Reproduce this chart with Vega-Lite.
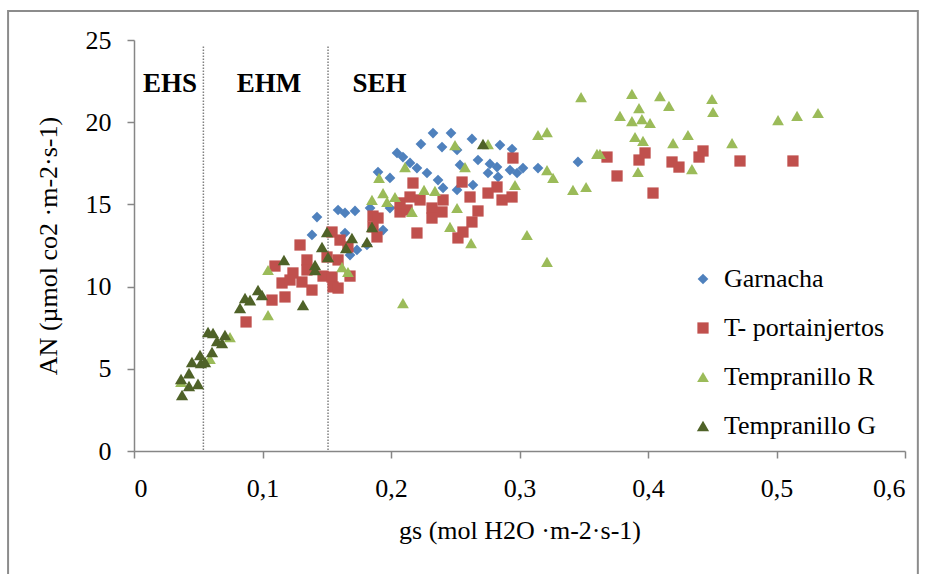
{
  "$schema": "https://vega.github.io/schema/vega-lite/v6.json",
  "autosize": "none",
  "width": 771,
  "height": 411,
  "padding": {"left": 134, "top": 40, "right": 22, "bottom": 123},
  "background": "white",
  "config": {
    "view": {"stroke": null},
    "font": "Liberation Serif",
    "axis": {
      "grid": false,
      "domainColor": "#868686",
      "domainWidth": 1.5,
      "tickColor": "#868686",
      "tickWidth": 1.5,
      "tickSize": 7,
      "labelFont": "Liberation Serif",
      "labelFontSize": 26,
      "labelColor": "black",
      "titleFont": "Liberation Serif",
      "titleFontSize": 26,
      "titleFontWeight": "normal",
      "titleColor": "black"
    },
    "legend": {
      "labelFont": "Liberation Serif",
      "labelFontSize": 26,
      "labelColor": "black",
      "labelLimit": 400
    }
  },
  "datasets": {
    "pts": [
      {"series": "Garnacha", "gs": 0.1385, "an": 13.14},
      {"series": "Garnacha", "gs": 0.1424, "an": 14.23},
      {"series": "Garnacha", "gs": 0.1588, "an": 14.66},
      {"series": "Garnacha", "gs": 0.1642, "an": 14.48},
      {"series": "Garnacha", "gs": 0.1720, "an": 14.60},
      {"series": "Garnacha", "gs": 0.1642, "an": 13.26},
      {"series": "Garnacha", "gs": 0.1681, "an": 11.92},
      {"series": "Garnacha", "gs": 0.1735, "an": 12.23},
      {"series": "Garnacha", "gs": 0.1813, "an": 12.53},
      {"series": "Garnacha", "gs": 0.1938, "an": 13.44},
      {"series": "Garnacha", "gs": 0.1837, "an": 14.78},
      {"series": "Garnacha", "gs": 0.1899, "an": 16.97},
      {"series": "Garnacha", "gs": 0.1992, "an": 16.61},
      {"series": "Garnacha", "gs": 0.1992, "an": 14.78},
      {"series": "Garnacha", "gs": 0.2047, "an": 18.13},
      {"series": "Garnacha", "gs": 0.2093, "an": 17.88},
      {"series": "Garnacha", "gs": 0.2148, "an": 17.52},
      {"series": "Garnacha", "gs": 0.2202, "an": 17.21},
      {"series": "Garnacha", "gs": 0.2233, "an": 18.67},
      {"series": "Garnacha", "gs": 0.2280, "an": 16.91},
      {"series": "Garnacha", "gs": 0.2327, "an": 19.34},
      {"series": "Garnacha", "gs": 0.2366, "an": 16.48},
      {"series": "Garnacha", "gs": 0.2397, "an": 18.49},
      {"series": "Garnacha", "gs": 0.2405, "an": 16.00},
      {"series": "Garnacha", "gs": 0.2467, "an": 19.34},
      {"series": "Garnacha", "gs": 0.2514, "an": 18.31},
      {"series": "Garnacha", "gs": 0.2514, "an": 15.88},
      {"series": "Garnacha", "gs": 0.2537, "an": 17.40},
      {"series": "Garnacha", "gs": 0.2630, "an": 18.98},
      {"series": "Garnacha", "gs": 0.2638, "an": 16.18},
      {"series": "Garnacha", "gs": 0.2677, "an": 17.70},
      {"series": "Garnacha", "gs": 0.2755, "an": 16.91},
      {"series": "Garnacha", "gs": 0.2770, "an": 17.46},
      {"series": "Garnacha", "gs": 0.2825, "an": 17.27},
      {"series": "Garnacha", "gs": 0.2848, "an": 18.61},
      {"series": "Garnacha", "gs": 0.2942, "an": 18.37},
      {"series": "Garnacha", "gs": 0.2926, "an": 17.09},
      {"series": "Garnacha", "gs": 0.2981, "an": 16.91},
      {"series": "Garnacha", "gs": 0.3027, "an": 17.21},
      {"series": "Garnacha", "gs": 0.3144, "an": 17.21},
      {"series": "Garnacha", "gs": 0.3455, "an": 17.58},
      {"series": "Garnacha", "gs": 0.2833, "an": 16.67},
      {"series": "T- portainjertos", "gs": 0.0872, "an": 7.85},
      {"series": "T- portainjertos", "gs": 0.1074, "an": 9.18},
      {"series": "T- portainjertos", "gs": 0.1175, "an": 9.37},
      {"series": "T- portainjertos", "gs": 0.1097, "an": 11.25},
      {"series": "T- portainjertos", "gs": 0.1292, "an": 12.53},
      {"series": "T- portainjertos", "gs": 0.1346, "an": 11.62},
      {"series": "T- portainjertos", "gs": 0.1346, "an": 11.01},
      {"series": "T- portainjertos", "gs": 0.1237, "an": 10.83},
      {"series": "T- portainjertos", "gs": 0.1152, "an": 10.22},
      {"series": "T- portainjertos", "gs": 0.1214, "an": 10.40},
      {"series": "T- portainjertos", "gs": 0.1307, "an": 10.28},
      {"series": "T- portainjertos", "gs": 0.1385, "an": 9.79},
      {"series": "T- portainjertos", "gs": 0.1471, "an": 10.64},
      {"series": "T- portainjertos", "gs": 0.1541, "an": 13.32},
      {"series": "T- portainjertos", "gs": 0.1603, "an": 12.83},
      {"series": "T- portainjertos", "gs": 0.1502, "an": 11.80},
      {"series": "T- portainjertos", "gs": 0.1588, "an": 11.62},
      {"series": "T- portainjertos", "gs": 0.1541, "an": 10.58},
      {"series": "T- portainjertos", "gs": 0.1549, "an": 9.98},
      {"series": "T- portainjertos", "gs": 0.1588, "an": 9.91},
      {"series": "T- portainjertos", "gs": 0.1681, "an": 10.64},
      {"series": "T- portainjertos", "gs": 0.1665, "an": 12.41},
      {"series": "T- portainjertos", "gs": 0.1860, "an": 14.29},
      {"series": "T- portainjertos", "gs": 0.1899, "an": 14.17},
      {"series": "T- portainjertos", "gs": 0.1860, "an": 13.63},
      {"series": "T- portainjertos", "gs": 0.1891, "an": 13.02},
      {"series": "T- portainjertos", "gs": 0.2070, "an": 14.54},
      {"series": "T- portainjertos", "gs": 0.2070, "an": 15.09},
      {"series": "T- portainjertos", "gs": 0.2125, "an": 14.66},
      {"series": "T- portainjertos", "gs": 0.2148, "an": 15.45},
      {"series": "T- portainjertos", "gs": 0.2171, "an": 16.30},
      {"series": "T- portainjertos", "gs": 0.2202, "an": 13.26},
      {"series": "T- portainjertos", "gs": 0.2226, "an": 15.27},
      {"series": "T- portainjertos", "gs": 0.2319, "an": 14.78},
      {"series": "T- portainjertos", "gs": 0.2319, "an": 14.17},
      {"series": "T- portainjertos", "gs": 0.2397, "an": 14.54},
      {"series": "T- portainjertos", "gs": 0.2405, "an": 15.27},
      {"series": "T- portainjertos", "gs": 0.2553, "an": 16.36},
      {"series": "T- portainjertos", "gs": 0.2521, "an": 12.96},
      {"series": "T- portainjertos", "gs": 0.2560, "an": 13.32},
      {"series": "T- portainjertos", "gs": 0.2615, "an": 15.45},
      {"series": "T- portainjertos", "gs": 0.2630, "an": 13.93},
      {"series": "T- portainjertos", "gs": 0.2677, "an": 14.60},
      {"series": "T- portainjertos", "gs": 0.2755, "an": 15.69},
      {"series": "T- portainjertos", "gs": 0.2825, "an": 16.06},
      {"series": "T- portainjertos", "gs": 0.2864, "an": 15.27},
      {"series": "T- portainjertos", "gs": 0.2942, "an": 15.45},
      {"series": "T- portainjertos", "gs": 0.2949, "an": 17.82},
      {"series": "T- portainjertos", "gs": 0.3681, "an": 17.88},
      {"series": "T- portainjertos", "gs": 0.3759, "an": 16.73},
      {"series": "T- portainjertos", "gs": 0.3930, "an": 17.70},
      {"series": "T- portainjertos", "gs": 0.3977, "an": 18.13},
      {"series": "T- portainjertos", "gs": 0.4039, "an": 15.69},
      {"series": "T- portainjertos", "gs": 0.4187, "an": 17.58},
      {"series": "T- portainjertos", "gs": 0.4241, "an": 17.27},
      {"series": "T- portainjertos", "gs": 0.4397, "an": 17.88},
      {"series": "T- portainjertos", "gs": 0.4428, "an": 18.25},
      {"series": "T- portainjertos", "gs": 0.4716, "an": 17.64},
      {"series": "T- portainjertos", "gs": 0.5128, "an": 17.64},
      {"series": "Tempranillo R", "gs": 0.0366, "an": 4.20},
      {"series": "Tempranillo R", "gs": 0.0591, "an": 5.60},
      {"series": "Tempranillo R", "gs": 0.0747, "an": 6.93},
      {"series": "Tempranillo R", "gs": 0.1043, "an": 11.01},
      {"series": "Tempranillo R", "gs": 0.1043, "an": 8.27},
      {"series": "Tempranillo R", "gs": 0.1619, "an": 11.19},
      {"series": "Tempranillo R", "gs": 0.1665, "an": 10.89},
      {"series": "Tempranillo R", "gs": 0.1907, "an": 16.61},
      {"series": "Tempranillo R", "gs": 0.1852, "an": 15.27},
      {"series": "Tempranillo R", "gs": 0.1938, "an": 15.69},
      {"series": "Tempranillo R", "gs": 0.1969, "an": 15.15},
      {"series": "Tempranillo R", "gs": 0.2031, "an": 15.45},
      {"series": "Tempranillo R", "gs": 0.2093, "an": 9.00},
      {"series": "Tempranillo R", "gs": 0.2109, "an": 17.27},
      {"series": "Tempranillo R", "gs": 0.2163, "an": 14.54},
      {"series": "Tempranillo R", "gs": 0.2257, "an": 15.88},
      {"series": "Tempranillo R", "gs": 0.2342, "an": 15.82},
      {"series": "Tempranillo R", "gs": 0.2498, "an": 18.61},
      {"series": "Tempranillo R", "gs": 0.2514, "an": 14.78},
      {"series": "Tempranillo R", "gs": 0.2576, "an": 17.27},
      {"series": "Tempranillo R", "gs": 0.2459, "an": 13.63},
      {"series": "Tempranillo R", "gs": 0.2623, "an": 12.65},
      {"series": "Tempranillo R", "gs": 0.2755, "an": 18.67},
      {"series": "Tempranillo R", "gs": 0.2965, "an": 16.18},
      {"series": "Tempranillo R", "gs": 0.3058, "an": 13.14},
      {"series": "Tempranillo R", "gs": 0.3214, "an": 11.50},
      {"series": "Tempranillo R", "gs": 0.3144, "an": 19.22},
      {"series": "Tempranillo R", "gs": 0.3214, "an": 19.40},
      {"series": "Tempranillo R", "gs": 0.3214, "an": 17.09},
      {"series": "Tempranillo R", "gs": 0.3261, "an": 16.61},
      {"series": "Tempranillo R", "gs": 0.3416, "an": 15.88},
      {"series": "Tempranillo R", "gs": 0.3518, "an": 16.06},
      {"series": "Tempranillo R", "gs": 0.3479, "an": 21.53},
      {"series": "Tempranillo R", "gs": 0.3603, "an": 18.07},
      {"series": "Tempranillo R", "gs": 0.3626, "an": 18.07},
      {"series": "Tempranillo R", "gs": 0.3782, "an": 20.38},
      {"series": "Tempranillo R", "gs": 0.3875, "an": 21.72},
      {"series": "Tempranillo R", "gs": 0.3930, "an": 20.86},
      {"series": "Tempranillo R", "gs": 0.3875, "an": 20.07},
      {"series": "Tempranillo R", "gs": 0.3953, "an": 20.19},
      {"series": "Tempranillo R", "gs": 0.4016, "an": 19.95},
      {"series": "Tempranillo R", "gs": 0.4093, "an": 21.59},
      {"series": "Tempranillo R", "gs": 0.4163, "an": 20.99},
      {"series": "Tempranillo R", "gs": 0.3899, "an": 19.10},
      {"series": "Tempranillo R", "gs": 0.3961, "an": 18.86},
      {"series": "Tempranillo R", "gs": 0.3922, "an": 16.97},
      {"series": "Tempranillo R", "gs": 0.4195, "an": 18.73},
      {"series": "Tempranillo R", "gs": 0.4311, "an": 19.22},
      {"series": "Tempranillo R", "gs": 0.4342, "an": 17.15},
      {"series": "Tempranillo R", "gs": 0.4498, "an": 21.41},
      {"series": "Tempranillo R", "gs": 0.4506, "an": 20.62},
      {"series": "Tempranillo R", "gs": 0.4654, "an": 18.73},
      {"series": "Tempranillo R", "gs": 0.5012, "an": 20.13},
      {"series": "Tempranillo R", "gs": 0.5160, "an": 20.38},
      {"series": "Tempranillo R", "gs": 0.5323, "an": 20.56},
      {"series": "Tempranillo G", "gs": 0.0374, "an": 3.41},
      {"series": "Tempranillo G", "gs": 0.0366, "an": 4.38},
      {"series": "Tempranillo G", "gs": 0.0428, "an": 4.74},
      {"series": "Tempranillo G", "gs": 0.0428, "an": 3.95},
      {"series": "Tempranillo G", "gs": 0.0498, "an": 4.08},
      {"series": "Tempranillo G", "gs": 0.0451, "an": 5.41},
      {"series": "Tempranillo G", "gs": 0.0514, "an": 5.84},
      {"series": "Tempranillo G", "gs": 0.0521, "an": 5.35},
      {"series": "Tempranillo G", "gs": 0.0553, "an": 5.41},
      {"series": "Tempranillo G", "gs": 0.0607, "an": 6.02},
      {"series": "Tempranillo G", "gs": 0.0576, "an": 7.24},
      {"series": "Tempranillo G", "gs": 0.0615, "an": 7.18},
      {"series": "Tempranillo G", "gs": 0.0646, "an": 6.69},
      {"series": "Tempranillo G", "gs": 0.0685, "an": 6.57},
      {"series": "Tempranillo G", "gs": 0.0708, "an": 7.06},
      {"series": "Tempranillo G", "gs": 0.0825, "an": 8.70},
      {"series": "Tempranillo G", "gs": 0.0864, "an": 9.31},
      {"series": "Tempranillo G", "gs": 0.0903, "an": 9.18},
      {"series": "Tempranillo G", "gs": 0.0965, "an": 9.79},
      {"series": "Tempranillo G", "gs": 0.0996, "an": 9.49},
      {"series": "Tempranillo G", "gs": 0.1167, "an": 11.62},
      {"series": "Tempranillo G", "gs": 0.1315, "an": 8.88},
      {"series": "Tempranillo G", "gs": 0.1409, "an": 11.31},
      {"series": "Tempranillo G", "gs": 0.1409, "an": 11.01},
      {"series": "Tempranillo G", "gs": 0.1463, "an": 12.41},
      {"series": "Tempranillo G", "gs": 0.1502, "an": 13.32},
      {"series": "Tempranillo G", "gs": 0.1510, "an": 11.80},
      {"series": "Tempranillo G", "gs": 0.1650, "an": 12.35},
      {"series": "Tempranillo G", "gs": 0.1696, "an": 12.96},
      {"series": "Tempranillo G", "gs": 0.1813, "an": 12.71},
      {"series": "Tempranillo G", "gs": 0.1852, "an": 13.63},
      {"series": "Tempranillo G", "gs": 0.2716, "an": 18.67}
    ],
    "zones": [
      {"label": "EHS", "gs": 0.028, "an": 22.3},
      {"label": "EHM", "gs": 0.105, "an": 22.3},
      {"label": "SEH", "gs": 0.191, "an": 22.3}
    ],
    "bounds": [
      {"gs": 0.054, "bottom": 0, "top": 24.6},
      {"gs": 0.151, "bottom": 0, "top": 24.6}
    ]
  },
  "layer": [
    {
      "data": {"values": [{}]},
      "mark": {"type": "rect", "fillOpacity": 0, "stroke": "#8c8c8c", "strokeWidth": 2, "clip": false},
      "encoding": {
        "x": {"datum": -0.098, "type": "quantitative"},
        "x2": {"datum": 0.61},
        "y": {"datum": 26.76, "type": "quantitative"},
        "y2": {"datum": -7.6}
      }
    },
    {
      "data": {"name": "bounds"},
      "mark": {"type": "rule", "color": "#808080", "strokeWidth": 1.5, "strokeDash": [1.5, 1.5]},
      "encoding": {
        "x": {"field": "gs", "type": "quantitative"},
        "y": {"field": "top", "type": "quantitative"},
        "y2": {"field": "bottom"}
      }
    },
    {
      "data": {"name": "zones"},
      "mark": {"type": "text", "font": "Liberation Serif", "fontSize": 27, "fontWeight": "bold", "color": "black", "align": "center", "baseline": "middle"},
      "encoding": {
        "x": {"field": "gs", "type": "quantitative"},
        "y": {"field": "an", "type": "quantitative"},
        "text": {"field": "label", "type": "nominal"}
      }
    },
    {
      "data": {"name": "pts"},
      "mark": {"type": "point", "filled": true, "opacity": 1, "strokeWidth": 0},
      "encoding": {
        "x": {
          "field": "gs", "type": "quantitative",
          "scale": {"domain": [0, 0.6], "nice": false, "zero": true},
          "axis": {
            "values": [0, 0.1, 0.2, 0.3, 0.4, 0.5, 0.6],
            "labelExpr": "datum.value == 0 ? '0' : replace(format(datum.value, '.1f'), '.', ',')",
            "labelPadding": 17,
            "title": "gs  (mol H2O ·m-2·s-1)",
            "titlePadding": 16
          }
        },
        "y": {
          "field": "an", "type": "quantitative",
          "scale": {"domain": [0, 25], "nice": false},
          "axis": {
            "values": [0, 5, 10, 15, 20, 25],
            "labelPadding": 16,
            "title": "AN  (µmol co2 ·m-2·s-1)",
            "titlePadding": 24
          }
        },
        "color": {
          "field": "series", "type": "nominal",
          "scale": {
            "domain": ["Garnacha", "T- portainjertos", "Tempranillo R", "Tempranillo G"],
            "range": ["#4F81BD", "#C0504D", "#9BBB59", "#4F6228"]
          },
          "legend": {
            "title": null,
            "orient": "none",
            "legendX": 556,
            "legendY": 226,
            "padding": 0,
            "symbolSize": 70,
            "rowPadding": 23,
            "labelOffset": 8,
            "labelFont": "Liberation Serif",
            "labelFontSize": 26,
            "labelLimit": 400
          }
        },
        "shape": {
          "field": "series", "type": "nominal",
          "scale": {
            "domain": ["Garnacha", "T- portainjertos", "Tempranillo R", "Tempranillo G"],
            "range": ["diamond", "square", "triangle-up", "triangle-up"]
          },
          "legend": {
            "title": null,
            "orient": "none",
            "legendX": 556,
            "legendY": 226,
            "padding": 0,
            "symbolSize": 70,
            "rowPadding": 23,
            "labelOffset": 8,
            "labelFont": "Liberation Serif",
            "labelFontSize": 26,
            "labelLimit": 400
          }
        },
        "size": {
          "field": "series", "type": "nominal",
          "scale": {
            "domain": ["Garnacha", "T- portainjertos", "Tempranillo R", "Tempranillo G"],
            "range": [115, 150, 150, 95]
          },
          "legend": null
        }
      }
    }
  ]
}
